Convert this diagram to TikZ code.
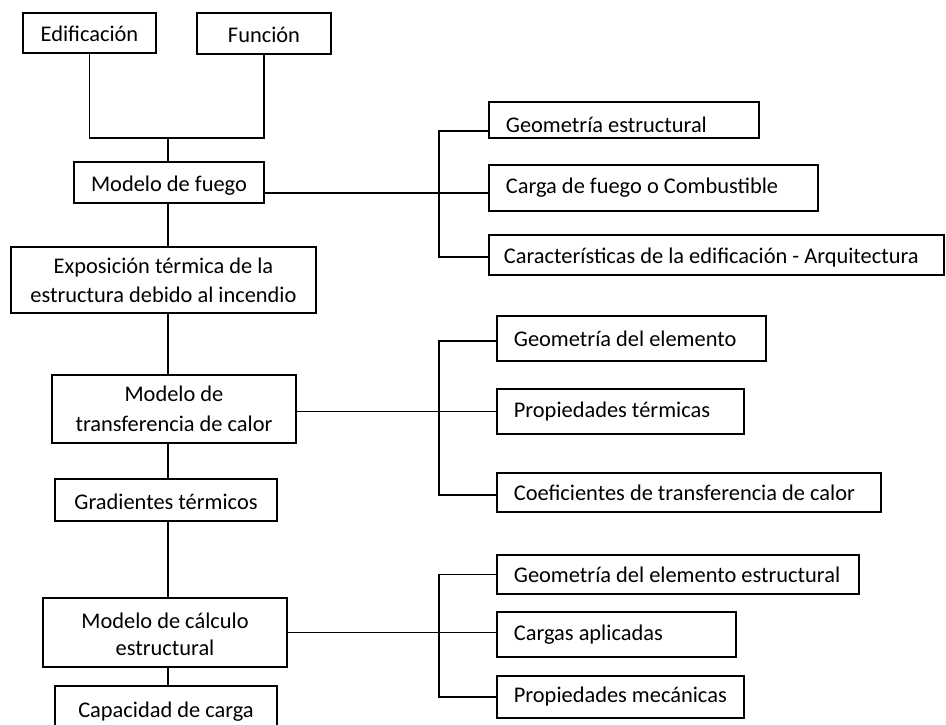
\documentclass[tikz,border=0pt]{standalone}
\usepackage{fontspec}
\setmainfont{Carlito}

\begin{document}
\begin{tikzpicture}[
  x=1pt,y=-1pt,
  font=\fontsize{22.4}{29}\selectfont,
  stage/.style={draw,line width=1.8pt,align=center,inner sep=0pt},
  single/.style={stage,text height=20pt,text depth=2pt},
  factor/.style={draw,line width=1.8pt,anchor=west,align=left,inner xsep=17pt,inner ysep=0pt,
    execute at begin node={\spaceskip=0pt\xspaceskip=0pt}},
  link/.style={line width=1.8pt}
]
\useasboundingbox (0,0) rectangle (946,725);

% main chain
\node[single,minimum width=133pt,minimum height=40pt] (edif) at (89.5,33) {Edificación};
\node[single,minimum width=134pt,minimum height=41pt] (func) at (264,33.5) {Función};
\node[single,minimum width=190pt,minimum height=41pt] (fuego) at (169,182.5) {Modelo de fuego};
\node[stage,minimum width=305pt,minimum height=66pt] (expo) at (163.5,280) {Exposición térmica de la\\estructura debido al incendio};
\node[stage,minimum width=244pt,minimum height=68pt] (trans) at (174,409) {Modelo de\\[1pt]transferencia de calor};
\node[single,minimum width=222pt,minimum height=42pt] (grad) at (166,500) {Gradientes térmicos};
\node[stage,minimum width=244pt,minimum height=69pt] (calc) at (165,632.5) {\raisebox{-4pt}[\height][\depth]{Modelo de cálculo}\\[2pt]estructural};
\node[single,minimum width=222pt,minimum height=44pt] (cap) at (166,708) {Capacidad de carga};

% factors of the fire model
\node[factor,text width=236pt,minimum height=36pt] (geoest) at (488,120) {\raisebox{-5pt}[\height][\depth]{Geometría estructural}};
\node[factor,text width=295pt,minimum height=46pt] (carga) at (488,188) {Carga de fuego o Combustible};
\node[factor,text width=425pt,inner xsep=15pt,minimum height=40pt] (carac) at (488,255) {\raisebox{-3pt}[\height][\depth]{Características de la edificación - Arquitectura}};

% factors of the heat transfer model
\node[factor,text width=235pt,minimum height=45pt] (geoel) at (496,338.5) {Geometría del elemento};
\node[factor,text width=213pt,minimum height=45pt] (proter) at (496,411.5) {Propiedades térmicas};
\node[factor,text width=350pt,minimum height=39pt] (coef) at (496,492.5) {Coeficientes de transferencia de calor};

% factors of the structural model
\node[factor,text width=328pt,minimum height=39pt] (geoelest) at (496,574.5) {Geometría del elemento estructural};
\node[factor,text width=205pt,minimum height=45pt] (cargas) at (496,634.5) {Cargas aplicadas};
\node[factor,text width=213pt,minimum height=42pt] (propmec) at (496,697) {Propiedades mecánicas};

% vertical links
\coordinate (top) at (168,138);
\draw[link] (edif.south) |- (top) -| (func.south);
\draw[link] (top) -- (top |- fuego.north);
\draw[link] (top |- fuego.south) -- (top |- expo.north);
\draw[link] (top |- expo.south) -- (top |- trans.north);
\draw[link] (top |- trans.south) -- (top |- grad.north);
\draw[link] (top |- grad.south) -- (top |- calc.north);
\draw[link] (top |- calc.south) -- (top |- cap.north);

% branches
\coordinate (fork1) at (439,193);
\draw[link] ([yshift=-10.5pt]fuego.east) -- ([yshift=-5pt]carga.west);
\draw[link] ([yshift=-11pt]geoest.west) -| (fork1) |- ([yshift=-2pt]carac.west);

\coordinate (fork2) at (439,412);
\draw[link] ([yshift=-2.5pt]geoel.west) -| (fork2) |- ([yshift=-2.5pt]coef.west);
\draw[link] (proter.west -| trans.east) -- (proter.west);

\coordinate (fork3) at (439,632);
\draw[link] (geoelest.west) -| (fork3) |- (propmec.west);
\draw[link] (calc.east) -- (calc.east -| cargas.west);
\end{tikzpicture}
\end{document}
